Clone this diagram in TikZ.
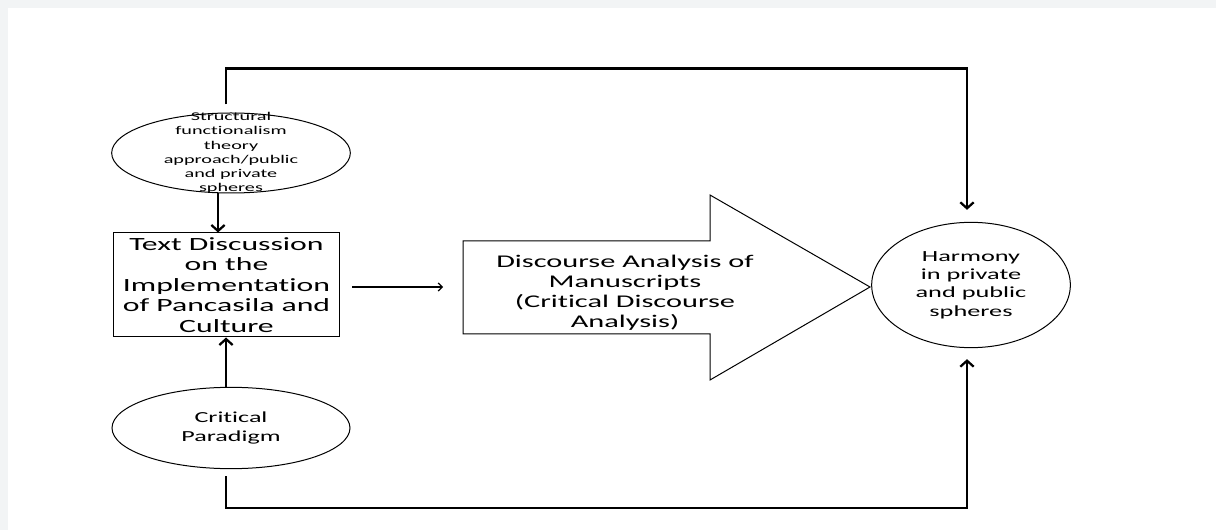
\documentclass[tikz,border=0pt]{standalone}
\usepackage{fontspec}
\setmainfont{Carlito}[FakeStretch=1.7,Ligatures={NoCommon}]
\usepackage{tikz}
\usetikzlibrary{positioning,shapes.geometric,arrows.meta}
\definecolor{pagegray}{RGB}{242,244,245}
\tikzset{oval/.style={ellipse,draw,line width=0.75pt,inner sep=0pt,align=center},
  textbox/.style={rectangle,draw,line width=0.75pt,inner sep=0pt,align=center},
  link/.style={line width=1.7pt,-{Straight Barb[length=4.5pt,width=10pt]}},
  thinlink/.style={line width=0.9pt,-{Straight Barb[length=3pt,width=6pt]}},}

\begin{document}
\begin{tikzpicture}[x=0.75pt,y=-0.75pt]
    \useasboundingbox (0,0) rectangle (1216,530);
    \fill[pagegray] (0,0) rectangle (1216,530);
    \fill[white] (8,8) rectangle (1216,530);

    \node[oval, minimum width=179pt, minimum height=60pt,
      label={[align=center,font=\fontsize{8.9}{10.7}\selectfont]center:Structural\\functionalism\\theory\\approach/public\\and private\\spheres}] (sf) at (231,153) {};
    \node[textbox, minimum width=170pt, minimum height=78pt,
      font=\fontsize{14}{15.4}\selectfont] (box) at (226.5,285)
      {Text Discussion\\on the\\Implementation\\of Pancasila and\\Culture};
    \node[oval, minimum width=178.5pt, minimum height=61pt,
      font=\fontsize{11.5}{14.3}\selectfont] (cp) at (231,428) {Critical\\Paradigm};
    \node[oval, minimum width=149pt, minimum height=94pt,
      font=\fontsize{11.6}{13.7}\selectfont] (harm) at (971,285) {Harmony\\in private\\and public\\spheres};

    % block arrow
    \draw[line width=0.75pt] (463,241) -- (710,241) -- (710,195) -- (870,287)
      -- (710,380) -- (710,334) -- (463,334) -- cycle;
    \node[align=center, inner sep=0pt, font=\fontsize{13.4}{15}\selectfont] (dca) at (625,293)
      {Discourse Analysis of\\Manuscripts\\(Critical Discourse\\Analysis)};
    \coordinate (dcatail) at (443,287);

    \draw[link] ([shift={(-13,0)}]sf.south) -- ([shift={(-13,0)}]sf.south |- box.north);
    \draw[link] ([shift={(-5,0)}]cp.north) -- ([shift={(-5,0)}]cp.north |- box.south);
    \draw[thinlink] ([shift={(12,2)}]box.east) -- (dcatail);

    \draw[link] ([shift={(-5,-8)}]sf.north) -- ++(0,-36) -| ([shift={(-4,-12)}]harm.north);
    \draw[link] ([shift={(-5,7)}]cp.south) -- ++(0,32) -| ([shift={(-4,11)}]harm.south);
\end{tikzpicture}
\end{document}
